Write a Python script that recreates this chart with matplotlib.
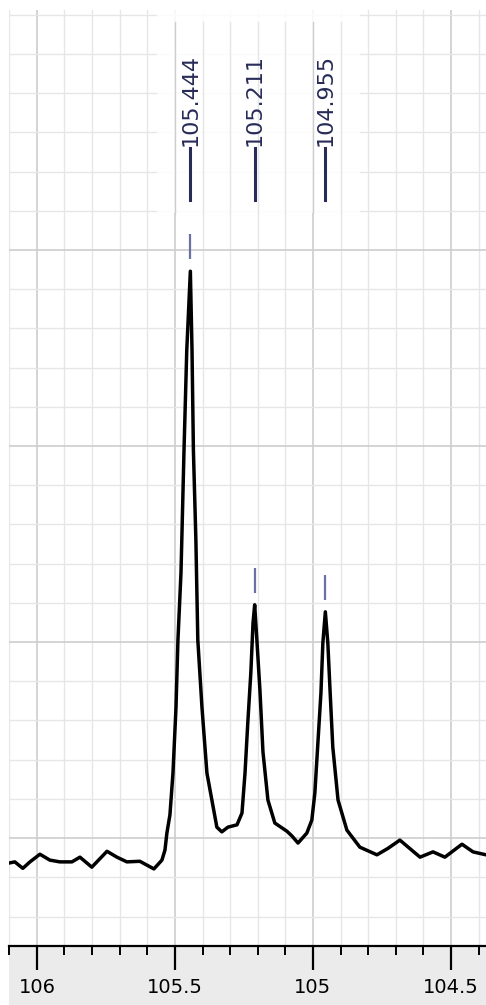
import numpy as np
import matplotlib.pyplot as plt
from matplotlib.patches import Rectangle
from matplotlib.transforms import blended_transform_factory

# spectrum: chemical shift (ppm) and intensity (main peak ~100)
shift = [106.101, 106.080, 106.051, 106.025, 105.989, 105.953, 105.917, 105.873,
         105.844, 105.801, 105.746, 105.710, 105.674, 105.627, 105.576, 105.547,
         105.536, 105.529, 105.518, 105.507, 105.496, 105.489, 105.478, 105.475,
         105.467, 105.457, 105.444, 105.438, 105.433, 105.424, 105.417, 105.402,
         105.384, 105.366, 105.348, 105.330, 105.308, 105.275, 105.257, 105.246,
         105.236, 105.225, 105.217, 105.211, 105.203, 105.192, 105.181, 105.163,
         105.138, 105.094, 105.076, 105.054, 105.022, 105.004, 104.993, 104.982,
         104.971, 104.964, 104.955, 104.946, 104.938, 104.928, 104.909, 104.877,
         104.830, 104.768, 104.728, 104.685, 104.612, 104.565, 104.522, 104.460,
         104.420, 104.373]
intensity = [-0.5, -0.3, -1.4, -0.3, 1.0, 0.0, -0.3, -0.3,
             0.5, -1.2, 1.5, 0.5, -0.3, -0.2, -1.5, 0.0,
             1.7, 4.6, 7.7, 14.8, 26.0, 37.4, 48.8, 54.4,
             69.7, 86.7, 100.1, 86.7, 69.7, 54.4, 37.4, 26.0,
             14.8, 10.2, 5.6, 4.8, 5.6, 6.0, 8.0, 14.8,
             23.3, 31.8, 40.3, 43.4, 37.4, 28.9, 18.4, 10.2,
             6.3, 4.9, 4.1, 2.9, 4.6, 6.8, 11.4, 19.9,
             28.4, 36.9, 42.2, 36.9, 28.9, 19.2, 10.2, 5.1,
             2.2, 0.9, 2.0, 3.4, 0.5, 1.4, 0.5, 2.7,
             1.4, 0.9]

peak_ppm = [105.444, 105.211, 104.955]
peak_labels = ['105.444', '105.211', '104.955']

x_ticks = [106, 105.5, 105, 104.5]
x_tick_labels = ['106', '105.5', '105', '104.5']

label_color = '#272b57'
marker_color = '#6b70a2'

fig = plt.figure(figsize=(4.86, 10.05), dpi=100)
ax = fig.add_axes([9 / 486, 59 / 1005, 477 / 486, 936 / 1005])
ax.set_xlim(106.101, 104.373)
ax.set_ylim(-14.6, 144.5)

# grey band under the axis
fig.add_artist(Rectangle((9 / 486, 0), 477 / 486, 59 / 1005, transform=fig.transFigure,
                         facecolor='#ebebeb', edgecolor='none', zorder=-1))

# grid: 0.1 ppm vertical, fixed-step horizontal, every 5th darker
ax.set_xticks(x_ticks)
ax.set_xticklabels(x_tick_labels)
ax.set_xticks(np.arange(104.4, 106.11, 0.1), minor=True)
step = 6.664
ax.set_yticks(3.74 + step * np.arange(-2, 22, 1), minor=True)
ax.set_yticks(3.74 + step * np.arange(0, 20, 5))
ax.set_axisbelow(True)
ax.grid(which='minor', color='#e6e6e6', lw=1.0)
ax.grid(which='major', color='#cdcdcd', lw=1.2)

ax.tick_params(axis='y', which='both', left=False, labelleft=False)
ax.tick_params(axis='x', which='major', length=17, width=1.6, labelsize=14, pad=6)
ax.tick_params(axis='x', which='minor', length=6.5, width=1.4)
for s in ['left', 'right', 'top']:
    ax.spines[s].set_visible(False)
ax.spines['bottom'].set_linewidth(1.6)

# pale box behind the peak labels
trans = blended_transform_factory(ax.transData, ax.transAxes)
ax.add_patch(Rectangle((104.830, 0.783), 0.735, 0.217, transform=trans,
                       facecolor='white', edgecolor='none', alpha=0.85, zorder=1))
for xv in np.arange(104.9, 105.55, 0.1):
    c = '#cdcdcd' if abs(xv * 2 - round(xv * 2)) < 1e-6 else '#e6e6e6'
    ax.axvline(xv, ymin=0.783, ymax=0.987, color=c, lw=1.0, zorder=1.1)

ax.plot(shift, intensity, color='black', lw=2.5, zorder=3,
        solid_joinstyle='round', solid_capstyle='round')

# peak pick marks and labels
heights = np.interp(peak_ppm, shift[::-1], intensity[::-1])
ax.vlines(peak_ppm, heights + 2.0, heights + 6.3, color=marker_color, lw=1.6, zorder=3)
for p, lab in zip(peak_ppm, peak_labels):
    ax.plot([p, p], [0.797, 0.853], transform=trans, color=label_color, lw=2.2, zorder=3)
    ax.text(p, 0.855, lab, transform=trans, rotation=90, ha='center', va='bottom',
            fontsize=16, color=label_color, zorder=3)

fig.savefig('out.png', dpi=100)
